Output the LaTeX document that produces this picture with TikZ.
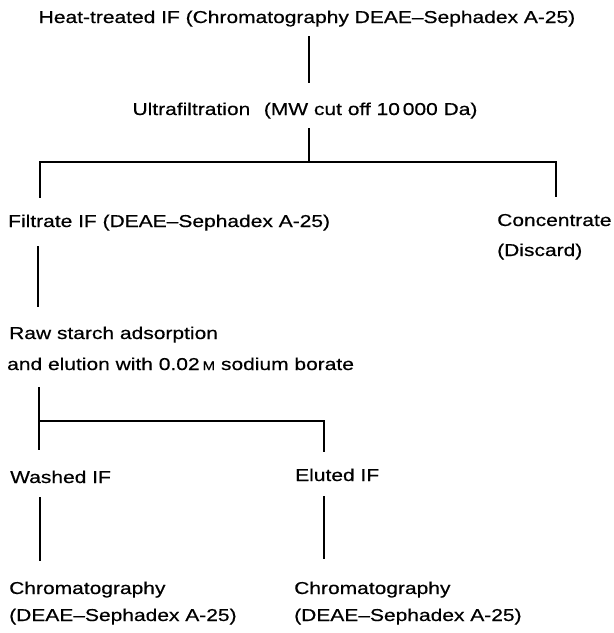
\documentclass[tikz,border=0pt]{standalone}
\usepackage{fontspec}
\setmainfont{Liberation Sans}[FakeStretch=1.22,FakeBold=0.5]
\newcommand{\molar}{{\fontsize{12.4}{12}\selectfont M}}
\tikzset{
  lbl/.style={inner sep=0pt,text height=12.6pt,text depth=3.6pt,
    font=\fontsize{17.2}{20}\selectfont},
  link/.style={line width=2pt,line cap=butt}
}
\begin{document}
\begin{tikzpicture}[x=1pt,y=-1pt]
		\useasboundingbox (0,0) rectangle (614,633);
		% text
		\node[lbl,anchor=base] (heat) at (307,23) {Heat-treated IF (Chromatography DEAE--Sephadex A-25)};
		\node[lbl,anchor=base] (ultra) at (305,115) {Ultrafiltration\hspace{0.45em} (MW cut off 10\,000 Da)};
		\node[lbl,anchor=base west] (filt) at (8,227) {Filtrate IF (DEAE--Sephadex A-25)};
		\node[lbl,anchor=base west] (conc) at (497,226) {Concentrate};
		\node[lbl,anchor=base west] (disc) at (497,256) {(Discard)};
		\node[lbl,anchor=base west] (raw) at (9,339) {Raw starch adsorption};
		\node[lbl,anchor=base west] (elut) at (7,370) {and elution with 0.02\,\molar{} sodium borate};
		\node[lbl,anchor=base west] (wash) at (10,483) {Washed IF};
		\node[lbl,anchor=base west] (elu) at (295,481) {Eluted IF};
		\node[lbl,anchor=base west] (chromA) at (9,594) {Chromatography};
		\node[lbl,anchor=base west] (dextA) at (9,621) {(DEAE--Sephadex A-25)};
		\node[lbl,anchor=base west] (chromB) at (294,594) {Chromatography};
		\node[lbl,anchor=base west] (dextB) at (294,621) {(DEAE--Sephadex A-25)};
		% branch points
		\coordinate (s1) at (308.5,162);
		\coordinate (s1l) at (40,162);
		\coordinate (s1r) at (556,162);
		\coordinate (s2l) at (39,421);
		\coordinate (s2r) at (324,421);
		% links
		\draw[link,shorten <=9.4pt,shorten >=19.4pt] (heat.south -| s1) -- (ultra.north -| s1);
		\draw[link,shorten <=9.4pt] (ultra.south -| s1) -- (s1);
		\draw[link,shorten <=16.4pt,shorten >=16.4pt] (filt.north -| s1l) -- (s1l) -- (s1r) -- (conc.north -| s1r);
		\draw[link,shorten <=15.4pt,shorten >=19.4pt] (filt.south -| 37.5,0) -- (raw.north -| 37.5,0);
		\draw[link,shorten <=13.4pt,shorten >=20.4pt] (elut.south -| s2l) -- (wash.north -| s2l);
		\draw[link,shorten >=16.4pt] (s2l) -- (s2r) -- (elu.north -| s2r);
		\draw[link,shorten <=10.4pt,shorten >=20.4pt] (wash.south -| s1l) -- (chromA.north -| s1l);
		\draw[link,shorten <=11.4pt,shorten >=22.4pt] (elu.south -| s2r) -- (chromB.north -| s2r);
\end{tikzpicture}
\end{document}
